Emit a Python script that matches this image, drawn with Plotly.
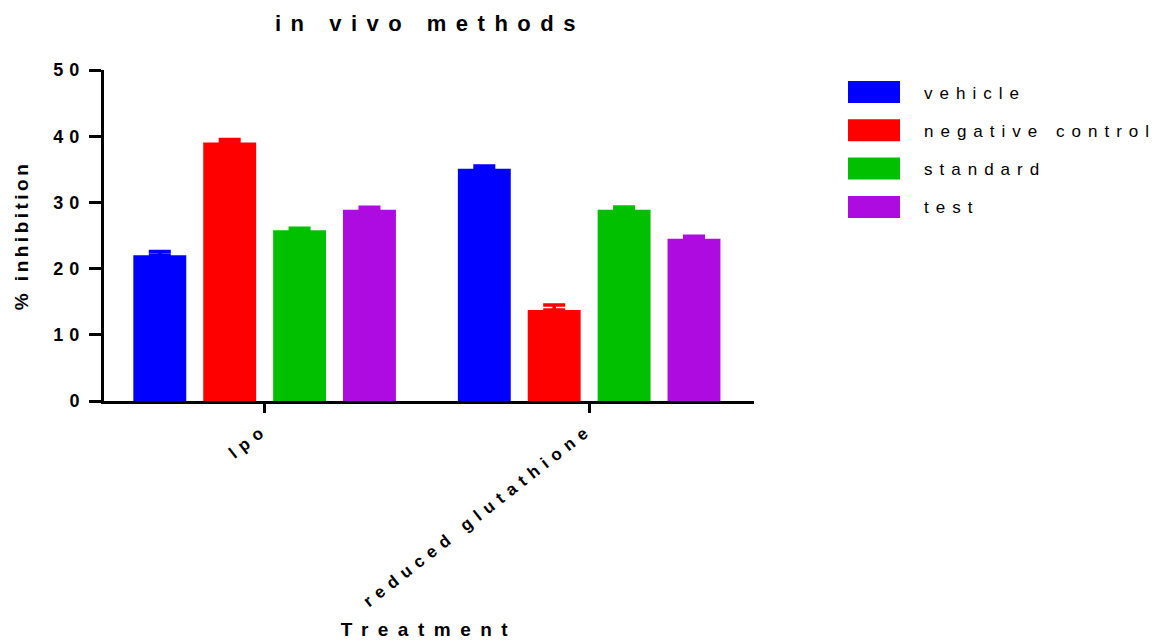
import plotly.graph_objects as go

# --- data -------------------------------------------------------------
categories = ["lpo", "reduced glutathione"]
series_names = ["vehicle", "negative control", "standard", "test"]
vehicle = [22.0, 35.1]
negative_control = [39.05, 13.75]
standard = [25.8, 28.9]
test = [28.9, 24.5]
vehicle_err = [0.6, 0.4]
negative_control_err = [0.45, 0.75]
standard_err = [0.3, 0.4]
test_err = [0.35, 0.4]
y_ticks = [0, 10, 20, 30, 40, 50]

series_values = [vehicle, negative_control, standard, test]
series_errors = [vehicle_err, negative_control_err, standard_err, test_err]
colors = ["#0000FF", "#FF0000", "#00C000", "#AD0BE0"]

# --- geometry of the figure (pixels) ---------------------------------
W, H = 1168, 640
L, R, T, B = 104, 754, 70, 401


def paper_x(px):
    return (px - L) / (R - L)


def paper_y(py):
    return (B - py) / (B - T)


FONT = "Liberation Sans, Arial, sans-serif"

fig = go.Figure()
for name, vals, errs, col in zip(series_names, series_values, series_errors, colors):
    fig.add_trace(go.Bar(
        name=name,
        x=categories,
        y=vals,
        marker=dict(color=col, line=dict(width=0)),
        error_y=dict(type="data", array=errs, arrayminus=[0] * len(errs),
                     symmetric=False, color=col, thickness=3.5, width=11),
        showlegend=False,
    ))

# legend drawn as large colour blocks with labels
row0, pitch = 92, 38.3
for i, (name, col) in enumerate(zip(series_names, colors)):
    cy = row0 + i * pitch
    fig.add_shape(type="rect", xref="paper", yref="paper",
                  x0=paper_x(848), x1=paper_x(900),
                  y0=paper_y(cy + 11), y1=paper_y(cy - 11),
                  fillcolor=col, line=dict(width=0), layer="above")
    fig.add_annotation(xref="paper", yref="paper", x=paper_x(922), y=paper_y(cy + 1),
                       xanchor="left", yanchor="middle", align="left",
                       text=name, showarrow=False,
                       font=dict(family=FONT, size=17, color="#000"))

fig.update_layout(
    width=W, height=H,
    margin=dict(l=L, r=W - R, t=T, b=H - B, autoexpand=False),
    paper_bgcolor="white", plot_bgcolor="white",
    barmode="group", bargap=0.1385, bargroupgap=0.243,
    title=dict(text="in vivo methods", x=paper_x(430), xref="paper", xanchor="center",
               y=1 - 23 / H, yref="container", yanchor="middle",
               font=dict(family=FONT, size=22, color="#000", weight="bold")),
    font=dict(family=FONT, color="#000"),
)

fig.update_xaxes(
    range=[-0.495, 1.508], showgrid=False, zeroline=False,
    showline=True, linecolor="#000", linewidth=3,
    ticks="outside", ticklen=9, tickwidth=3, tickcolor="#000",
    tickangle=-38, automargin=False,
    tickfont=dict(family=FONT, size=17, color="#000", weight="bold"),
    title=dict(text="Treatment", standoff=106,
               font=dict(family=FONT, size=19, color="#000", weight="bold")),
)
fig.update_yaxes(
    range=[0, 50], tickvals=y_ticks, showgrid=False, zeroline=False,
    showline=True, linecolor="#000", linewidth=3,
    ticks="outside", ticklen=12, tickwidth=3, tickcolor="#000", automargin=False,
    tickfont=dict(family=FONT, size=18, color="#000", weight="bold"),
    title=dict(text="% inhibition", standoff=32,
               font=dict(family=FONT, size=19, color="#000", weight="bold")),
)

# wide letter spacing used throughout the chart's text
spacing_js = """
var gd = document.getElementById('{plot_id}');
function sp(sel, v) {
  gd.querySelectorAll(sel).forEach(function (t) { t.style.letterSpacing = v; });
}
function applySpacing() {
  sp('.gtitle', '9.5px');
  sp('.ytick text', '6px');
  sp('.xtick text', '6.5px');
  sp('.g-ytitle text', '3.5px');
  sp('.g-xtitle text', '9.5px');
  sp('.annotation-text', '7px');
}
applySpacing();
gd.on('plotly_afterplot', applySpacing);
"""

fig.write_html("out.html", post_script=spacing_js)
